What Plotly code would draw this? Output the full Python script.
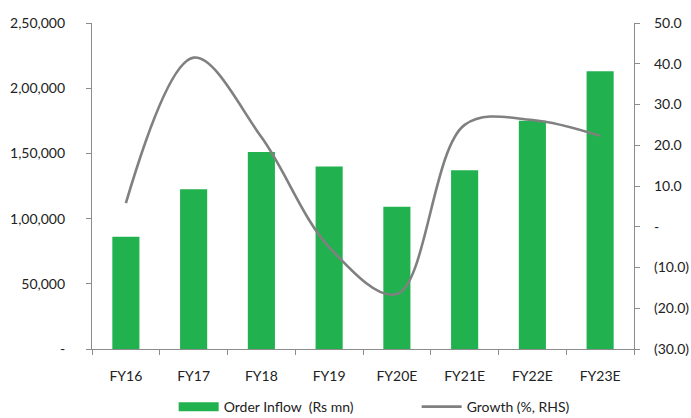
import plotly.graph_objects as go

# Order inflow and year-on-year growth
years = ["FY16", "FY17", "FY18", "FY19", "FY20E", "FY21E", "FY22E", "FY23E"]
order_inflow = [86000, 122500, 151000, 140000, 109000, 137000, 175000, 213000]
growth = [5.8, 41.5, 22.0, -5.0, -16.5, 25.0, 26.2, 22.3]

left_ticks = [0, 50000, 100000, 150000, 200000, 250000]
left_labels = ["-", "50,000", "1,00,000", "1,50,000", "2,00,000", "2,50,000"]
right_ticks = [-30, -20, -10, 0, 10, 20, 30, 40, 50]
right_labels = ["(30.0)", "(20.0)", "(10.0)", "-", "10.0", "20.0", "30.0", "40.0", "50.0"]

GREEN = "#21B24F"
GREY = "#808080"
FONT = "Lato"
TEXT = "#222222"
FS = 14

fig = go.Figure()

fig.add_trace(go.Bar(
    x=years, y=order_inflow, name="Order Inflow  (Rs mn)",
    marker=dict(color=GREEN, line=dict(width=0)),
    width=0.4, showlegend=False, yaxis="y",
))

fig.add_trace(go.Scatter(
    x=years, y=growth, name="Growth (%, RHS)", mode="lines",
    line=dict(color=GREY, width=2.6, shape="spline", smoothing=1.0),
    yaxis="y2", showlegend=False,
))

# Legend entries (wide swatches)
fig.add_trace(go.Scatter(
    x=[None], y=[None], mode="lines", name="Order Inflow  (Rs mn)",
    line=dict(color=GREEN, width=9), yaxis="y",
))
fig.add_trace(go.Scatter(
    x=[None], y=[None], mode="lines", name="Growth (%, RHS)",
    line=dict(color=GREY, width=2.6), yaxis="y2",
))

axis_line = dict(showline=True, linecolor="#8c8c8c", linewidth=1.2,
                 ticks="outside", ticklen=5, tickcolor="#8c8c8c", tickwidth=1,
                 showgrid=False, zeroline=False, automargin=False)

fig.update_layout(
    width=691, height=418,
    margin=dict(l=92, r=57, t=23, b=69, autoexpand=False),
    paper_bgcolor="white", plot_bgcolor="white",
    font=dict(family=FONT, size=FS, color=TEXT),
    bargap=0.6,
    xaxis=dict(**axis_line, tickson="boundaries", ticklabelstandoff=14,
               tickfont=dict(family=FONT, size=FS, color=TEXT)),
    yaxis=dict(**axis_line, range=[0, 250000], tickvals=left_ticks,
               ticktext=left_labels, ticklabelstandoff=18,
               tickfont=dict(family=FONT, size=FS, color=TEXT)),
    yaxis2=dict(**axis_line, range=[-30, 50], tickvals=right_ticks,
                ticktext=right_labels, overlaying="y", side="right",
                ticklabelstandoff=11,
                tickfont=dict(family=FONT, size=FS, color=TEXT)),
    legend=dict(orientation="h", x=0.599, xanchor="center", y=-0.178,
                yanchor="middle", font=dict(family=FONT, size=FS, color=TEXT),
                itemwidth=40, entrywidth=188, entrywidthmode="pixels",
                bgcolor="rgba(0,0,0,0)", traceorder="normal"),
)

fig.write_html("out.html")
